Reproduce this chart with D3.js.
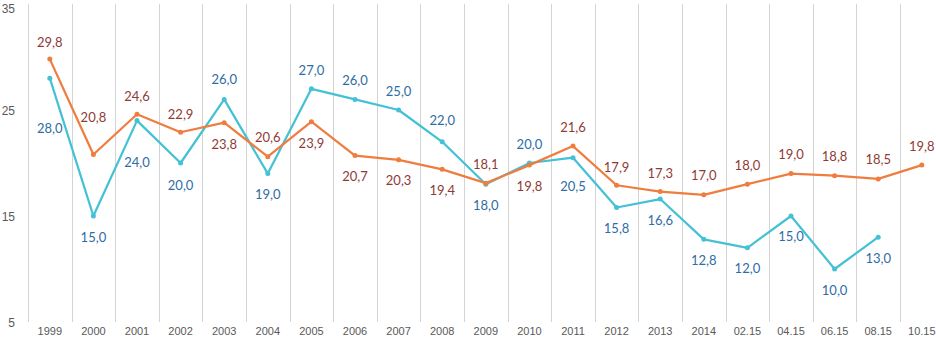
<!DOCTYPE html>
<html>
<head>
<meta charset="utf-8">
<script src="https://cdn.jsdelivr.net/npm/d3@7"></script>
<style>
  body { margin: 0; background: #fff; }
  svg { display: block; font-family: Lato, "Open Sans", sans-serif; }
  .grid line { stroke: #d3d3d3; stroke-width: 1; }
  .axis text { fill: #595959; }
</style>
</head>
<body>
<div id="container"></div>
<script>
/* DATA */
const categories = ["1999", "2000", "2001", "2002", "2003", "2004", "2005", "2006", "2007",
  "2008", "2009", "2010", "2011", "2012", "2013", "2014", "02.15", "04.15", "06.15", "08.15", "10.15"];

const seriesOrange = [29.8, 20.8, 24.6, 22.9, 23.8, 20.6, 23.9, 20.7, 20.3, 19.4, 18.1,
  19.8, 21.6, 17.9, 17.3, 17.0, 18.0, 19.0, 18.8, 18.5, 19.8];

const seriesCyan = [28.0, 15.0, 24.0, 20.0, 26.0, 19.0, 27.0, 26.0, 25.0, 22.0, 18.0,
  20.0, 20.5, 15.8, 16.6, 12.8, 12.0, 15.0, 10.0, 13.0, null];

const yTicks = [5, 15, 25, 35];

// label placement (pixels from the point, negative = above)
const orangeLabelDy = [-17, -37, -18, -18, 22, -19, 22, 21, 21, 21, -19, 21, -19, -18, -18, -19, -19, -19, -19, -19, -19];
const cyanLabelDy = [50, 21, 42, 22, -20, 21, -18, -19, -19, -21, 21, -19, 29, 21, 21, 21, 21, 20, 21, 21, 0];

/* CONSTANTS */
const width = 936,
      height = 342;

const fmt = d => d.toFixed(1).replace(".", ",");

const svg = d3.select("#container")
  .append("svg")
  .attr("width", width)
  .attr("height", height);

/* SCALES */
const xScale = d3.scaleBand()
  .domain(categories)
  .range([28, 28 + 43.6 * categories.length])
  .padding(0);

const yScale = d3.scaleLinear()
  .domain([5, 35])
  .range([322, 4]);

// vertical grid lines at category boundaries
svg.append("g")
  .attr("class", "grid")
  .selectAll("line")
  .data(categories)
  .join("line")
  .attr("x1", d => Math.round(xScale(d)) + 0.5)
  .attr("x2", d => Math.round(xScale(d)) + 0.5)
  .attr("y1", yScale(35))
  .attr("y2", yScale(5));

// axes
const xAxis = d3.axisBottom(xScale).tickSize(0).tickPadding(0);
svg.append("g")
  .attr("class", "axis")
  .attr("transform", `translate(0, ${327})`)
  .call(xAxis)
  .call(g => g.select(".domain").remove())
  .selectAll("text")
  .style("font-size", "11px")
  .attr("dy", "0.71em");

const yAxis = d3.axisLeft(yScale).tickValues(yTicks).tickSize(0).tickPadding(0);
svg.append("g")
  .attr("class", "axis")
  .attr("transform", `translate(${15}, 1)`)
  .call(yAxis)
  .call(g => g.select(".domain").remove())
  .selectAll("text")
  .style("font-size", "12px")
  // keep the top label inside the picture
  .attr("dy", d => d === 35 ? "0.6em" : "0.32em");

const cx = (d, i) => xScale(categories[i]) + xScale.bandwidth() / 2;

function drawSeries(values, lineColor, labelColor, labelDy) {
  const pts = values.map((v, i) => ({ v, i })).filter(d => d.v !== null);

  const lineGen = d3.line()
    .x(d => cx(d, d.i))
    .y(d => yScale(d.v));

  svg.append("path")
    .datum(pts)
    .attr("fill", "none")
    .attr("stroke", lineColor)
    .attr("stroke-width", 2.25)
    .attr("stroke-linejoin", "round")
    .attr("d", lineGen);

  svg.append("g")
    .selectAll("circle")
    .data(pts)
    .join("circle")
    .attr("cx", d => cx(d, d.i))
    .attr("cy", d => yScale(d.v))
    .attr("r", 2.5)
    .attr("fill", lineColor);

  svg.append("g")
    .selectAll("text")
    .data(pts)
    .join("text")
    .attr("x", d => cx(d, d.i))
    .attr("y", d => yScale(d.v) + labelDy[d.i])
    .attr("dy", "0.35em")
    .attr("text-anchor", "middle")
    .attr("fill", labelColor)
    .style("font-size", "13px")
    .text(d => fmt(d.v));
}

drawSeries(seriesCyan, "#45c1d6", "#2e6ca4", cyanLabelDy);
drawSeries(seriesOrange, "#ef7d3f", "#8e3b36", orangeLabelDy);
</script>
</body>
</html>
